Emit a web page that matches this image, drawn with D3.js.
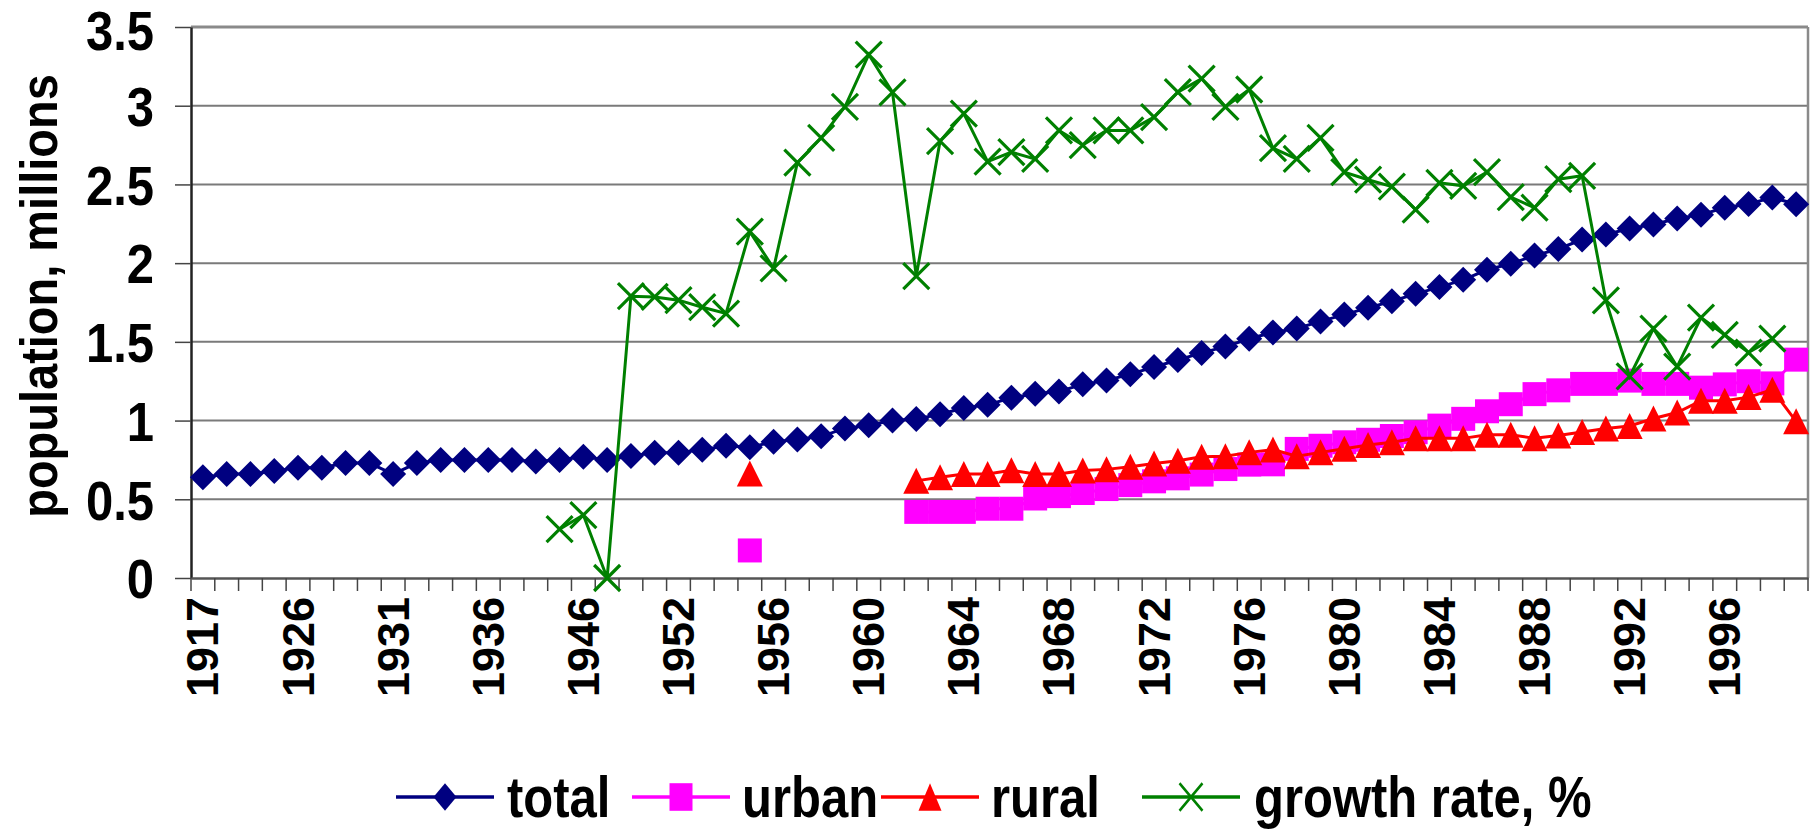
<!DOCTYPE html>
<html>
<head>
<meta charset="utf-8">
<script src="https://cdn.jsdelivr.net/npm/d3@7/dist/d3.min.js"></script>
<style>
  html, body { margin: 0; padding: 0; background: #fff; }
  svg { display: block; }
  text { font-family: "Liberation Sans", Arial, sans-serif; font-weight: bold; fill: #000; }
</style>
</head>
<body>
<svg id="chart" width="1818" height="830"></svg>
<script>
// ---- data ----
const years = [1917, 1918, 1921, 1924, 1926, 1927, 1929, 1930, 1931, 1932, 1933, 1934,
  1936, 1937, 1940, 1944, 1946, 1947, 1949, 1950,
  1952, 1953, 1954, 1955, 1956, 1957, 1958, 1959, 1960, 1961, 1962, 1963, 1964, 1965,
  1966, 1967, 1968, 1969, 1970, 1971, 1972, 1973, 1974, 1975, 1976, 1977, 1978, 1979,
  1980, 1981, 1982, 1983, 1984, 1985, 1986, 1987, 1988, 1989, 1990, 1991, 1992, 1993,
  1994, 1995, 1996, 1997, 1998, 1999];

const total = [0.64, 0.66, 0.66, 0.68, 0.70, 0.70, 0.73, 0.73, 0.66, 0.73, 0.75, 0.75,
  0.75, 0.75, 0.74, 0.75, 0.77, 0.75, 0.775, 0.795,
  0.795, 0.815, 0.84, 0.83, 0.865, 0.88, 0.90, 0.95, 0.97, 1.00, 1.01, 1.04, 1.08, 1.10,
  1.145, 1.17, 1.185, 1.23, 1.255, 1.295, 1.34, 1.385, 1.43, 1.47, 1.52, 1.56, 1.585, 1.63,
  1.673, 1.716, 1.758, 1.805, 1.848, 1.894, 1.958, 1.996, 2.048, 2.09, 2.15, 2.182, 2.22, 2.246,
  2.284, 2.308, 2.352, 2.376, 2.417, 2.374];

const urban = [null, null, null, null, null, null, null, null, null, null, null, null,
  null, null, null, null, null, null, null, null,
  null, null, null, 0.175, null, null, null, null, null, null, 0.42, 0.42, 0.42, 0.44,
  0.44, 0.505, 0.52, 0.54, 0.565, 0.59, 0.614, 0.633, 0.657, 0.692, 0.72, 0.722, 0.82, 0.84,
  0.862, 0.878, 0.902, 0.926, 0.968, 1.011, 1.059, 1.104, 1.168, 1.192, 1.233, 1.233, 1.254, 1.233,
  1.233, 1.209, 1.23, 1.25, 1.236, 1.387];

const rural = [null, null, null, null, null, null, null, null, null, null, null, null,
  null, null, null, null, null, null, null, null,
  null, null, null, 0.664, null, null, null, null, null, null, 0.617, 0.64, 0.661, 0.661,
  0.685, 0.66, 0.66, 0.683, 0.69, 0.707, 0.728, 0.745, 0.77, 0.774, 0.798, 0.816, 0.774, 0.798,
  0.821, 0.845, 0.863, 0.887, 0.887, 0.887, 0.91, 0.91, 0.887, 0.905, 0.927, 0.95, 0.966, 1.013,
  1.051, 1.126, 1.126, 1.149, 1.196, 0.995];

const growth = [null, null, null, null, null, null, null, null, null, null, null, null,
  null, null, null, 0.31, 0.40, 0.0, 1.79, 1.785,
  1.765, 1.72, 1.68, 2.2, 1.967, 2.638, 2.796, 2.993, 3.325, 3.085, 1.918, 2.775, 2.95, 2.645,
  2.705, 2.662, 2.843, 2.75, 2.843, 2.843, 2.928, 3.086, 3.172, 2.993, 3.103, 2.73, 2.662, 2.796,
  2.578, 2.53, 2.486, 2.34, 2.51, 2.491, 2.578, 2.42, 2.352, 2.533, 2.555, 1.763, 1.28, 1.584,
  1.342, 1.654, 1.544, 1.432, 1.52, null];

const yTicks = [0, 0.5, 1, 1.5, 2, 2.5, 3, 3.5];
const yTickLabels = ["0", "0.5", "1", "1.5", "2", "2.5", "3", "3.5"];
const seriesNames = ["total", "urban", "rural", "growth rate, %"];
const seriesColors = ["#000080", "#FF00FF", "#FF0000", "#008000"];
const seriesMarkers = ["diamond", "square", "triangle", "x"];
const yTitle = "population, millions";

// ---- layout ----
const plot = { left: 191, right: 1808, top: 27, bottom: 578 };

const svg = d3.select("#chart");

const x = d3.scaleBand()
  .domain(years.map(String))
  .range([plot.left, plot.right])
  .paddingInner(0).paddingOuter(0);
const cx = yr => x(String(yr)) + x.bandwidth() / 2;

const y = d3.scaleLinear().domain([0, 3.5]).range([plot.bottom, plot.top]);

// gridlines
svg.append("g").selectAll("line").data(yTicks.filter(v => v > 0)).join("line")
  .attr("x1", plot.left).attr("x2", plot.right)
  .attr("y1", d => y(d)).attr("y2", d => y(d))
  .attr("stroke", "#7a7a7a").attr("stroke-width", 2);

// frame (top/right)
svg.append("line").attr("x1", plot.right).attr("x2", plot.right)
  .attr("y1", plot.top).attr("y2", plot.bottom)
  .attr("stroke", "#8a8a8a").attr("stroke-width", 2.5);
svg.append("line").attr("x1", plot.left).attr("x2", plot.right)
  .attr("y1", plot.top).attr("y2", plot.top)
  .attr("stroke", "#8a8a8a").attr("stroke-width", 3);

// y axis
const yAxis = d3.axisLeft(y).tickValues(yTicks)
  .tickFormat((d, i) => yTickLabels[i]).tickSize(16).tickSizeOuter(0).tickPadding(0);
const gy = svg.append("g").attr("transform", `translate(${plot.left},0)`).call(yAxis);
gy.select(".domain").attr("stroke", "#222").attr("stroke-width", 2.5);
gy.selectAll(".tick line").attr("stroke", "#444").attr("stroke-width", 1.5);
gy.selectAll(".tick text")
  .attr("x", null).attr("dy", null)
  .attr("font-size", 49).attr("font-family", "Liberation Sans, Arial, sans-serif")
  .attr("font-weight", "bold").attr("fill", "#000")
  .attr("text-anchor", "end")
  .attr("dominant-baseline", "central")
  .attr("transform", (d, i) => `translate(-37,${i === yTicks.length - 1 ? 3 : 0}) scale(1,1.15)`);

// x axis
const xAxis = d3.axisBottom(x).tickSize(0).tickFormat("");
const gx = svg.append("g").attr("transform", `translate(0,${plot.bottom})`).call(xAxis);
gx.select(".domain").attr("stroke", "#555").attr("stroke-width", 2.5);
gx.selectAll(".tick").remove();

// x tick marks at category boundaries
const boundaries = years.map(d => x(String(d))).concat([plot.right]);
svg.append("g").selectAll("line").data(boundaries).join("line")
  .attr("x1", d => d).attr("x2", d => d)
  .attr("y1", plot.bottom).attr("y2", plot.bottom + 13)
  .attr("stroke", "#444").attr("stroke-width", 1.5);

// x labels (every 4th category)
svg.append("g").selectAll("text").data(years.filter((d, i) => i % 4 === 0)).join("text")
  .attr("transform", d => `translate(${cx(d)},${plot.bottom + 19}) rotate(-90)`)
  .attr("text-anchor", "end")
  .attr("dominant-baseline", "central")
  .attr("font-size", 45)
  .text(d => d);

// y title
svg.append("text")
  .attr("transform", `translate(39,296) rotate(-90) scale(1,1.12)`)
  .attr("text-anchor", "middle")
  .attr("dominant-baseline", "central")
  .attr("font-size", 47)
  .text(yTitle);

// marker shapes
function markerPath(type, s) {
  const r = s / 2;
  if (type === "diamond") return `M0,${-r}L${r},0L0,${r}L${-r},0Z`;
  if (type === "square") return `M${-r},${-r}H${r}V${r}H${-r}Z`;
  if (type === "triangle") return `M0,${-r}L${r},${r}L${-r},${r}Z`;
  if (type === "x") return `M${-r},${-r}L${r},${r}M${-r},${r}L${r},${-r}`;
  return "";
}

const allSeries = [total, urban, rural, growth];
const markerSizes = [26, 24, 26, 26];

allSeries.forEach((vals, si) => {
  const pts = years.map((yr, i) => ({ yr: yr, v: vals[i] }));
  const line = d3.line()
    .defined(d => d.v !== null)
    .x(d => cx(d.yr))
    .y(d => y(d.v));
  const g = svg.append("g");
  g.append("path").datum(pts).attr("d", line)
    .attr("fill", "none").attr("stroke", seriesColors[si]).attr("stroke-width", 3);
  const m = seriesMarkers[si];
  g.selectAll("path.m").data(pts.filter(d => d.v !== null)).join("path")
    .attr("class", "m")
    .attr("transform", d => `translate(${cx(d.yr)},${y(d.v)})`)
    .attr("d", markerPath(m, markerSizes[si]))
    .attr("fill", m === "x" ? "none" : seriesColors[si])
    .attr("stroke", m === "x" ? seriesColors[si] : "none")
    .attr("stroke-width", m === "x" ? 3.2 : 0);
});

// legend
const legendItems = [
  { x0: 396, tx: 507 },
  { x0: 632, tx: 742 },
  { x0: 881, tx: 991 },
  { x0: 1142, tx: 1254 }
];
const legendY = 797;
const lg = svg.append("g");
seriesNames.forEach((name, si) => {
  const it = legendItems[si];
  lg.append("line").attr("x1", it.x0).attr("x2", it.x0 + 98)
    .attr("y1", legendY).attr("y2", legendY)
    .attr("stroke", seriesColors[si]).attr("stroke-width", 3.5);
  const m = seriesMarkers[si];
  lg.append("path")
    .attr("transform", `translate(${it.x0 + 49},${legendY}) scale(1,1.2)`)
    .attr("d", markerPath(m, 23))
    .attr("fill", m === "x" ? "none" : seriesColors[si])
    .attr("stroke", m === "x" ? seriesColors[si] : "none")
    .attr("stroke-width", m === "x" ? 2.5 : 0);
  lg.append("text")
    .attr("transform", `translate(${it.tx},${legendY}) scale(1,1.16)`)
    .attr("dominant-baseline", "central")
    .attr("font-size", 49)
    .text(name);
});
</script>
</body>
</html>
